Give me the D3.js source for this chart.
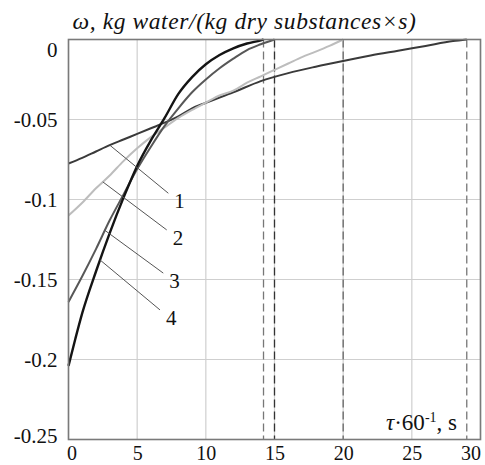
<!DOCTYPE html>
<html>
<head>
<meta charset="utf-8">
<script src="https://cdn.jsdelivr.net/npm/d3@7"></script>
<style>
  body { margin: 0; background: #fff; }
  svg text { font-family: "Liberation Serif", "Times New Roman", serif; fill: #111; }
</style>
</head>
<body>
<script>
// values
const t1 = [0, 1, 2, 3, 4, 5, 6, 7, 8, 9, 10, 12, 14, 16, 18, 20, 22, 24, 26, 28, 29];
const w1 = [-0.0775, -0.074, -0.070, -0.066, -0.0625, -0.059, -0.0555, -0.052, -0.048, -0.043, -0.0395, -0.033, -0.026, -0.021, -0.017, -0.0134, -0.010, -0.007, -0.004, -0.001, 0];

const t2 = [0, 1, 2, 3, 4, 5, 6, 7, 8, 9, 10, 11, 12, 13, 14, 15, 16, 17, 18, 19, 20];
const w2 = [-0.110, -0.102, -0.093, -0.085, -0.076, -0.068, -0.061, -0.055, -0.049, -0.044, -0.0395, -0.035, -0.032, -0.027, -0.023, -0.019, -0.015, -0.011, -0.0076, -0.004, 0];

const t3 = [0, 1, 2, 3, 4, 5, 6, 7, 8, 9, 10, 11, 12, 13, 14, 15];
const w3 = [-0.164, -0.148, -0.131, -0.113, -0.097, -0.081, -0.067, -0.054, -0.043, -0.033, -0.025, -0.018, -0.012, -0.0066, -0.003, 0];

const t4 = [0, 0.5, 1, 2, 3, 4, 5, 6, 7, 8, 9, 10, 11, 12, 13, 14, 14.2];
const w4 = [-0.204, -0.187, -0.171, -0.145, -0.121, -0.099, -0.079, -0.063, -0.049, -0.034, -0.0235, -0.0155, -0.0097, -0.0055, -0.0025, -0.0005, 0];

const seriesNames = ['1', '2', '3', '4'];
const seriesColours = ['#3a3a3a', '#bdbdbd', '#575757', '#141414'];
const seriesWidths = [2, 2, 2, 2.4];

const dashedAt = [14.2, 15, 20, 29];
const dashedColours = ['#777', '#333', '#666', '#777'];

// leader lines: start on the curve at this time, end at this point
const leaderFromT = [3, 2.5, 2.65, 2.3];
const leaderToT = [7.27, 7.15, 6.9, 6.66];
const leaderToW = [-0.0961, -0.119, -0.146, -0.169];

const xTicks = [0, 5, 10, 15, 20, 25, 30];
const yTicks = [0, -0.05, -0.1, -0.15, -0.2, -0.25];

const chartWidth = 485;
const chartHeight = 465;
const margin = { top: 39.5, right: 4.5, bottom: 25.5, left: 68.5 };
const plotWidth = chartWidth - margin.left - margin.right;
const plotHeight = chartHeight - margin.top - margin.bottom;

const svg = d3.select('body').append('svg')
    .attr('width', chartWidth)
    .attr('height', chartHeight);

const xScale = d3.scaleLinear().domain([0, 30]).range([0, plotWidth]);
const yScale = d3.scaleLinear().domain([-0.25, 0]).range([plotHeight, 0]);

const container = svg.append('g')
    .attr('transform', `translate(${margin.left},${margin.top})`);

// grid
container.append('g')
  .selectAll('line')
  .data(xTicks)
  .enter().append('line')
    .attr('x1', d => xScale(d)).attr('x2', d => xScale(d))
    .attr('y1', 0).attr('y2', plotHeight)
    .attr('stroke', '#cfcfcf').attr('stroke-width', 1.2);

container.append('g')
  .selectAll('line')
  .data(yTicks)
  .enter().append('line')
    .attr('x1', 0).attr('x2', plotWidth)
    .attr('y1', d => yScale(d)).attr('y2', d => yScale(d))
    .attr('stroke', '#cfcfcf').attr('stroke-width', 1.2);

// dashed marks
container.append('g')
  .selectAll('line')
  .data(dashedAt)
  .enter().append('line')
    .attr('x1', d => xScale(d)).attr('x2', d => xScale(d))
    .attr('y1', 0).attr('y2', plotHeight)
    .attr('stroke', (d, i) => dashedColours[i])
    .attr('stroke-width', 1.3)
    .attr('stroke-dasharray', '8,4');

// axes (labels only)
const xAxis = d3.axisBottom(xScale).tickValues(xTicks).tickSize(0).tickPadding(0).tickFormat(d3.format('d'));
container.append('g')
    .attr('transform', `translate(0,${plotHeight})`)
    .call(xAxis)
    .call(g => g.select('.domain').remove())
    .call(g => g.selectAll('text')
        .attr('font-size', 20)
        .attr('font-family', '"Liberation Serif", serif')
        .attr('fill', '#111')
        .attr('dy', null)
        .attr('y', 20.5)
        .attr('text-anchor', (d, i) => i === 0 ? 'start' : (i === xTicks.length - 1 ? 'end' : 'middle'))
        .attr('x', (d, i) => i === 0 ? -2 : 0));

const yAxis = d3.axisLeft(yScale).tickValues(yTicks).tickSize(0).tickPadding(11).tickFormat(d => d === 0 ? '0' : String(d));
container.append('g')
    .call(yAxis)
    .call(g => g.select('.domain').remove())
    .call(g => g.selectAll('text')
        .attr('font-size', 21)
        .attr('font-family', '"Liberation Serif", serif')
        .attr('fill', '#111')
        .attr('dy', (d, i) => i === 0 ? '0.82em' : (i === yTicks.length - 1 ? '0.15em' : '0.34em')));

// curves
const line = d3.line()
    .x(d => xScale(d[0]))
    .y(d => yScale(d[1]))
    .curve(d3.curveMonotoneX);

const series = [d3.zip(t1, w1), d3.zip(t2, w2), d3.zip(t3, w3), d3.zip(t4, w4)];

series.forEach((pts, i) => {
  container.append('path')
      .attr('d', line(pts))
      .attr('fill', 'none')
      .attr('stroke', seriesColours[i])
      .attr('stroke-width', seriesWidths[i])
      .attr('stroke-linejoin', 'round');
});

// leader lines + numbers
function valueAt(pts, t) {
  const ts = pts.map(p => p[0]);
  const j = Math.max(1, d3.bisectLeft(ts, t));
  const a = pts[j - 1], b = pts[j];
  return d3.interpolateNumber(a[1], b[1])((t - a[0]) / (b[0] - a[0]));
}

const leaders = container.append('g');
seriesNames.forEach((name, i) => {
  const x1 = xScale(leaderFromT[i]);
  const y1 = yScale(valueAt(series[i], leaderFromT[i]));
  const x2 = xScale(leaderToT[i]);
  const y2 = yScale(leaderToW[i]);
  leaders.append('line')
      .attr('x1', x1).attr('y1', y1)
      .attr('x2', x2).attr('y2', y2)
      .attr('stroke', '#555').attr('stroke-width', 1);
  leaders.append('text')
      .attr('x', x2 + 6)
      .attr('y', y2 + 15)
      .attr('font-size', 21)
      .text(name);
});

// frame
container.append('rect')
    .attr('width', plotWidth)
    .attr('height', plotHeight)
    .attr('fill', 'none')
    .attr('stroke', '#7a7a7a')
    .attr('stroke-width', 1.6);

// titles
svg.append('text')
    .attr('x', 72.5)
    .attr('y', 29)
    .attr('font-size', 23.5)
    .attr('letter-spacing', 0.6)
    .attr('font-style', 'italic')
    .text('ω, kg water/(kg dry substances×s)');

const xTitle = svg.append('text')
    .attr('x', 457)
    .attr('y', 430)
    .attr('text-anchor', 'end')
    .attr('font-size', 23);
xTitle.append('tspan').attr('font-style', 'italic').text('τ');
xTitle.append('tspan').text('·60');
xTitle.append('tspan').attr('font-size', 14).attr('dy', -8).text('-1');
xTitle.append('tspan').attr('dy', 8).text(', s');
</script>
</body>
</html>
